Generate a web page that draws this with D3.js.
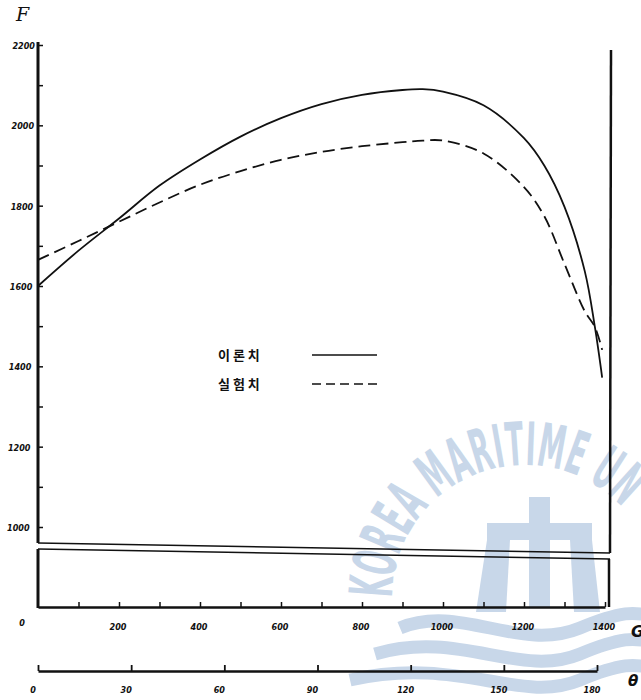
<!DOCTYPE html>
<html>
<head>
<meta charset="utf-8">
<script src="https://cdn.jsdelivr.net/npm/d3@7"></script>
<style>
  body { margin: 0; background: #fff; }
  svg { display: block; }
  .tick-lbl { font-family: "DejaVu Sans Condensed", "DejaVu Sans"; font-weight: bold; font-style: italic; font-size: 9px; fill: #111; }
</style>
</head>
<body>
<svg id="chart"></svg>
<script>
const W = 641;
const H = 700;

// G grid (shared) and the two series
const gValues = [0, 100, 200, 300, 400, 500, 600, 700, 800, 900, 950, 1000, 1100, 1200, 1250, 1300, 1350, 1375, 1393];
const theoryF = [1600, 1688, 1768, 1850, 1915, 1972, 2018, 2053, 2076, 2088, 2090, 2084, 2050, 1968, 1900, 1797, 1637, 1498, 1372];
const measuredF = [1665, 1712, 1760, 1808, 1852, 1886, 1914, 1934, 1948, 1958, 1962, 1962, 1930, 1846, 1774, 1655, 1537, 1498, 1441];

const fTicks = [1000, 1200, 1400, 1600, 1800, 2000, 2200];
const gTicks = [200, 400, 600, 800, 1000, 1200, 1400];
const thetaTicks = [30, 60, 90, 120, 150, 180];
const legendLabels = ["이 론 치", "실 험 치"];

const svg = d3.select("#chart")
    .attr("width", W)
    .attr("height", H);

const x = d3.scaleLinear().domain([0, 1400]).range([38, 605]);
const y = d3.scaleLinear().domain([1000, 2200]).range([527, 45]);
const th = d3.scaleLinear().domain([0, 180]).range([38, 597]);

const ink = "#111";
const wmCol = "#c8d7e9";

// watermark (faint), drawn first so everything sits on top
const wm = svg.append("g");
wm.append("path")
    .attr("id", "wmArc")
    .attr("d", d3.arc()({ innerRadius: 133, outerRadius: 133, startAngle: -Math.PI * 0.5, endAngle: Math.PI * 0.45 }))
    .attr("transform", "translate(525,598)")
    .attr("fill", "none");
wm.append("text")
    .attr("font-family", "DejaVu Sans Condensed")
    .attr("font-weight", "bold")
    .attr("font-size", 60)
    .attr("fill", wmCol)
    .append("textPath")
    .attr("href", "#wmArc")
    .attr("textLength", 318)
    .attr("lengthAdjust", "spacingAndGlyphs")
    .text("KOREA MARITIME UN");
wm.append("rect").attr("x", 529).attr("y", 497).attr("width", 21).attr("height", 110).attr("fill", wmCol);
wm.append("rect").attr("x", 487).attr("y", 523).attr("width", 105).attr("height", 17).attr("fill", wmCol);
wm.append("path").attr("d", "M487,540 L510,540 L506,612 L476,612 Z").attr("fill", wmCol);
wm.append("path").attr("d", "M570,540 L592,540 L600,612 L574,612 Z").attr("fill", wmCol);
[0, 1, 2].forEach(k => {
    const yy = 628 + k * 26;
    wm.append("path")
        .attr("d", `M${400 - k * 25},${yy} C460,${yy - 25} 520,${yy + 25} 580,${yy} S641,${yy - 10} 660,${yy - 12}`)
        .attr("fill", "none")
        .attr("stroke", wmCol)
        .attr("stroke-width", 13);
});

// left axis (ticks only, domain drawn by hand to show the break)
const yAxis = svg.append("g")
    .attr("transform", "translate(38,0)")
    .call(d3.axisRight(y).tickValues(d3.range(1000, 2201, 100)).tickSize(5).tickFormat(""));
yAxis.select(".domain").remove();
yAxis.selectAll("line").attr("stroke", ink).attr("stroke-width", 1.5);

svg.append("line").attr("x1", 38).attr("x2", 38).attr("y1", 42).attr("y2", 543)
    .attr("stroke", ink).attr("stroke-width", 3);
svg.append("line").attr("x1", 38).attr("x2", 38).attr("y1", 549).attr("y2", 608)
    .attr("stroke", ink).attr("stroke-width", 3);

// right frame line
svg.append("line").attr("x1", 611).attr("x2", 610).attr("y1", 50).attr("y2", 553)
    .attr("stroke", ink).attr("stroke-width", 2.5);
svg.append("line").attr("x1", 609).attr("x2", 609).attr("y1", 559).attr("y2", 607)
    .attr("stroke", ink).attr("stroke-width", 2.5);

// break lines
svg.append("line").attr("x1", 38).attr("x2", 610).attr("y1", 543).attr("y2", 553)
    .attr("stroke", ink).attr("stroke-width", 1.6);
svg.append("line").attr("x1", 38).attr("x2", 610).attr("y1", 549).attr("y2", 559)
    .attr("stroke", ink).attr("stroke-width", 1.6);

// F labels
svg.selectAll(".flbl")
    .data(fTicks)
    .enter()
    .append("text")
    .attr("class", "tick-lbl")
    .attr("x", (d, i) => 35 - (6 - i) * 0.9)
    .attr("y", d => y(d) + 4)
    .attr("text-anchor", "end")
    .text(d => d);

svg.append("text").attr("class", "tick-lbl").attr("x", 22).attr("y", 626)
    .attr("text-anchor", "middle").attr("font-size", 11).text("0");

svg.append("text")
    .attr("x", 16).attr("y", 21)
    .attr("font-family", "DejaVu Serif")
    .attr("font-style", "italic")
    .attr("font-size", 19)
    .attr("fill", ink)
    .text("F");

// G axis
const gAxis = svg.append("g")
    .attr("transform", "translate(0,607)")
    .call(d3.axisTop(x).tickValues(d3.range(100, 1401, 100)).tickSize(5).tickSizeOuter(0).tickFormat(""));
gAxis.select(".domain").attr("stroke", ink).attr("stroke-width", 2.5);
gAxis.selectAll("line").attr("stroke", ink).attr("stroke-width", 1.5);

svg.selectAll(".glbl")
    .data(gTicks)
    .enter()
    .append("text")
    .attr("class", "tick-lbl")
    .attr("x", d => x(d) - 1)
    .attr("y", 630)
    .attr("text-anchor", "middle")
    .text(d => d);

svg.append("text").attr("x", 631).attr("y", 637)
    .attr("font-family", "DejaVu Sans").attr("font-weight", "bold").attr("font-style", "italic")
    .attr("font-size", 16).attr("fill", ink).text("G");

// theta axis
const tAxis = svg.append("g")
    .attr("transform", "translate(0,671)")
    .call(d3.axisTop(th).tickValues([0].concat(thetaTicks)).tickSize(6).tickSizeOuter(0).tickFormat(""));
tAxis.select(".domain").attr("stroke", ink).attr("stroke-width", 2.5);
tAxis.selectAll("line").attr("stroke", ink).attr("stroke-width", 1.8);

svg.selectAll(".tlbl")
    .data([0].concat(thetaTicks))
    .enter()
    .append("text")
    .attr("class", "tick-lbl")
    .attr("x", d => th(d) - 5)
    .attr("y", 693)
    .attr("text-anchor", "middle")
    .attr("font-size", 11)
    .text(d => d);

svg.append("text").attr("x", 628).attr("y", 686)
    .attr("font-family", "DejaVu Sans").attr("font-weight", "bold").attr("font-style", "italic")
    .attr("font-size", 15).attr("fill", ink).text("θ");

// curves
const line = d3.line()
    .x((d, i) => x(gValues[i]))
    .y(d => y(d))
    .curve(d3.curveCatmullRom.alpha(0.5));

svg.append("path")
    .datum(theoryF)
    .attr("d", line)
    .attr("fill", "none")
    .attr("stroke", ink)
    .attr("stroke-width", 1.8);

svg.append("path")
    .datum(measuredF)
    .attr("d", line)
    .attr("fill", "none")
    .attr("stroke", ink)
    .attr("stroke-width", 1.8)
    .attr("stroke-dasharray", "12,6");

// legend
const leg = svg.append("g");
legendLabels.forEach((lbl, i) => {
    const ly = 355 + i * 29;
    leg.append("text")
        .attr("x", 218).attr("y", ly + 5)
        .attr("font-family", "Noto Sans CJK KR")
        .attr("font-weight", "bold")
        .attr("font-size", 13)
        .attr("fill", ink)
        .text(lbl);
    leg.append("line")
        .attr("x1", 312).attr("x2", 377)
        .attr("y1", ly).attr("y2", ly)
        .attr("stroke", ink)
        .attr("stroke-width", 1.6)
        .attr("stroke-dasharray", i === 0 ? null : "9,5");
});
</script>
</body>
</html>
